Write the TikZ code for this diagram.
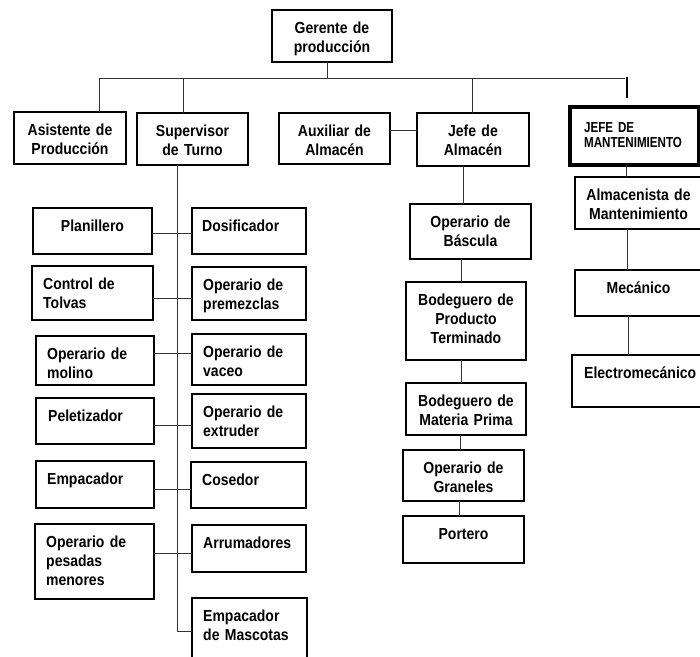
\documentclass[tikz,border=0pt]{standalone}
\usepackage{fontspec}
\newfontfamily\bxf{Liberation Sans}[FakeStretch=0.875]
\newfontfamily\jmf{Liberation Sans}[FakeStretch=0.8]
\newcommand\obox[6][]{\node[bx,#1,minimum width={#4pt-#2pt},minimum height={#5pt-#3pt}] (#6) at ({(#2+#4)/2},{(#3+#5)/2}) {};}
\newcommand\ctx[2]{\node[txt,align=center,text width=150pt,anchor=base] (#1t) at ([yshift=-23.5pt]#1.north) {#2};}
\newcommand\ltx[3]{\node[txt,align=left,text width=150pt,anchor=base west] (#1t) at ([xshift=#2pt,yshift=-23.5pt]#1.north west) {#3};}
\begin{document}
\begin{tikzpicture}[x=1pt,y=-1pt,
  bx/.style={draw=black,line width=2.1pt,inner sep=0pt,outer sep=0pt},
  thick box/.style={line width=3.2pt},
  txt/.style={inner sep=0pt,font=\bxf\bfseries\fontsize{16}{19}\selectfont},
  jmtxt/.style={inner sep=0pt,font=\jmf\bfseries\fontsize{14.5}{15.5}\selectfont},
  link/.style={draw=black!80,line width=1pt},
  stub/.style={draw=black,line width=1.3pt}]
\useasboundingbox (0,0) rectangle (700,656);
% top level
\obox{272}{10}{392}{62}{ger}
\ctx{ger}{Gerente de\\producción}
\obox{14}{112}{126}{164}{asi}
\ctx{asi}{Asistente de\\Producción}
\obox{137}{113}{248}{165}{sup}
\ctx{sup}{Supervisor\\de Turno}
\obox{279}{113}{390}{164}{aux}
\ctx{aux}{Auxiliar de\\Almacén}
\obox{417}{113}{529}{166}{jal}
\ctx{jal}{Jefe de\\Almacén}
\obox[thick box]{570}{107}{699}{165}{jm}
\node[jmtxt,align=left,text width=120pt,anchor=base west] (jmt) at ([xshift=14pt,yshift=-25pt]jm.north west) {JEFE DE\\MANTENIMIENTO};
% maintenance column
\obox{575}{177}{702}{229}{alm}
\ctx{alm}{Almacenista de\\Mantenimiento}
\obox{575}{270}{702}{316}{mec}
\ctx{mec}{Mecánico}
\obox{572}{355}{702}{407}{ele}
\ltx{ele}{12}{Electromecánico}
% warehouse column
\obox{410}{204}{531}{259}{oba}
\ctx{oba}{Operario de\\Báscula}
\obox{406}{282}{526}{360}{bpt}
\ctx{bpt}{Bodeguero de\\Producto\\Terminado}
\obox{406}{383}{526}{435}{bmp}
\ctx{bmp}{Bodeguero de\\Materia Prima}
\obox{403}{450}{524}{501}{ogr}
\ctx{ogr}{Operario de\\Graneles}
\obox{403}{516}{524}{563}{por}
\ctx{por}{Portero}
% supervisor column
\obox{33}{208}{152}{254}{pla}
\ctx{pla}{Planillero}
\obox{192}{208}{306}{254}{dos}
\ltx{dos}{10}{Dosificador}
\obox{32}{266}{153}{320}{cto}
\ltx{cto}{11}{Control de\\Tolvas}
\obox{192}{267}{306}{320}{opr}
\ltx{opr}{11}{Operario de\\premezclas}
\obox{36}{336}{154}{385}{omo}
\ltx{omo}{11}{Operario de\\molino}
\obox{192}{334}{306}{385}{ova}
\ltx{ova}{11}{Operario de\\vaceo}
\obox{36}{398}{154}{444}{pel}
\ltx{pel}{12}{Peletizador}
\obox{192}{394}{306}{448}{oex}
\ltx{oex}{11}{Operario de\\extruder}
\obox{36}{461}{154}{508}{emp}
\ltx{emp}{11}{Empacador}
\obox{191}{462}{306}{508}{cos}
\ltx{cos}{11}{Cosedor}
\obox{35}{524}{154}{599}{ope}
\ltx{ope}{11}{Operario de\\pesadas\\menores}
\obox{192}{525}{306}{572}{arr}
\ltx{arr}{11}{Arrumadores}
\obox{192}{598}{307}{668}{emm}
\ltx{emm}{11}{Empacador\\de Mascotas}
% connectors
\coordinate (busL) at (99,78);
\coordinate (busR) at (625,78);
\coordinate (stubT) at (627,77);
\coordinate (stubB) at (627,98);
\coordinate (spine) at (177,631);
\draw[link] ([xshift=-5pt]ger.south) -- ([xshift=-5pt]ger.south |- busL);
\draw[link] (busL) -- (busR);
\draw[link] (busL) -- (busL |- asi.north);
\draw[link] (183,78) -- (183,0 |- sup.north);
\draw[link] (472,78) -- (472,0 |- jal.north);
\draw[stub] (stubT) -- (stubB);
\draw[link] ([yshift=8.5pt]aux.east) -- ([yshift=8.5pt]aux.east -| jal.west);
% supervisor spine and pairs
\draw[link] (177,0 |- sup.south) -- (spine) -- (spine -| emm.west);
\draw[link] (pla.east |- 0,233) -- (dos.west |- 0,233);
\draw[link] (cto.east |- 0,298) -- (opr.west |- 0,298);
\draw[link] (omo.east |- 0,353) -- (ova.west |- 0,353);
\draw[link] (pel.east |- 0,425) -- (oex.west |- 0,425);
\draw[link] (emp.east |- 0,489) -- (cos.west |- 0,489);
\draw[link] (ope.east |- 0,553) -- (arr.west |- 0,553);
% warehouse chain
\draw[link] (463,0 |- jal.south) -- (463,0 |- oba.north);
\draw[link] (461,0 |- oba.south) -- (461,0 |- bpt.north);
\draw[link] (461,0 |- bpt.south) -- (461,0 |- bmp.north);
\draw[link] (460,0 |- bmp.south) -- (460,0 |- ogr.north);
\draw[link] (459,0 |- ogr.south) -- (459,0 |- por.north);
% maintenance chain
\draw[link] (626,0 |- jm.south) -- (626,0 |- alm.north);
\draw[link] (627,0 |- alm.south) -- (627,0 |- mec.north);
\draw[link] (628,0 |- mec.south) -- (628,0 |- ele.north);
\end{tikzpicture}
\end{document}
